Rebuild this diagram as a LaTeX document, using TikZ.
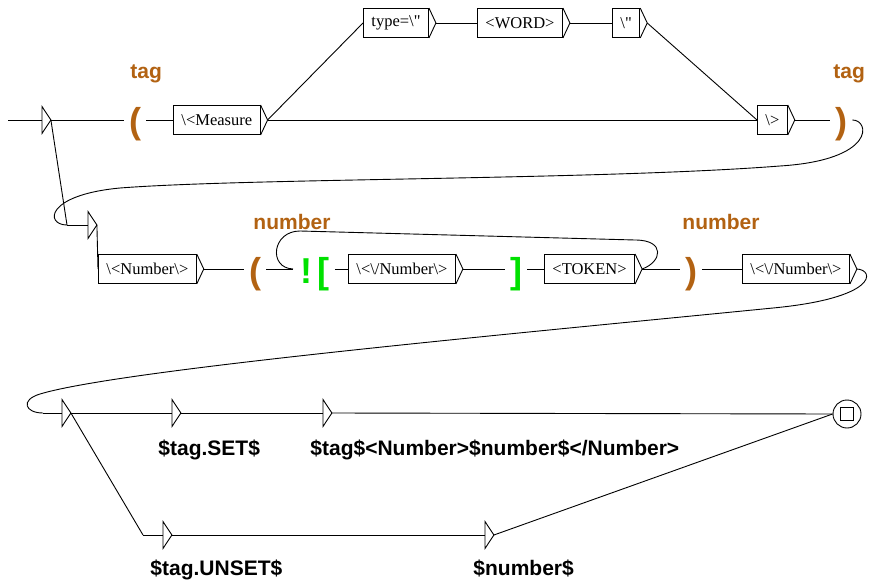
\documentclass[tikz,border=0pt]{standalone}
\usepackage{fontspec}
\newfontfamily\boxfont{Liberation Serif}
\newfontfamily\outfont{Liberation Sans}
\definecolor{varcol}{RGB}{178,98,18}
\definecolor{ctxcol}{RGB}{0,225,0}
\begin{document}
\begin{tikzpicture}[
  x=1pt, y=-1pt,
  line width=0.9pt,
  box/.style={draw, anchor=west, minimum height=29pt, inner xsep=8pt, inner ysep=0pt, font=\boxfont\fontsize{16.5}{18}\selectfont},
  eps/.style={anchor=west, minimum width=8pt, minimum height=26pt, inner sep=0pt},
  paren/.style={anchor=base, inner xsep=5pt, inner ysep=0pt, text=varcol, font=\outfont\bfseries\fontsize{36}{36}\selectfont},
  ctx/.style={anchor=base, inner xsep=5pt, inner ysep=0pt, text=ctxcol, font=\outfont\bfseries\fontsize{36}{36}\selectfont},
  var/.style={anchor=base west, inner sep=0pt, text=varcol, font=\outfont\bfseries\fontsize{21}{24}\selectfont},
  outlab/.style={anchor=base west, inner sep=0pt, font=\outfont\bfseries\fontsize{21}{24}\selectfont}
]
\useasboundingbox (0,0) rectangle (869,580);

% first line: the tag
\coordinate (in0) at (8,120);
\node[eps] (init) at (42,120) {};
\node[paren] (p1) at (135,134) {(};
\node[var] (lbtag1) at (130,79) {tag};
\node[box] (meas) at (173,120) {\textbackslash<Measure};
\node[box] (type) at (363,23) {type=\textbackslash"};
\node[box] (word) at (477,23) {<WORD>};
\node[box] (quot) at (612,23) {\textbackslash"};
\node[box] (close) at (757,120) {\textbackslash>};
\node[paren] (p2) at (841,134) {)};
\node[var] (lbtag2) at (833,79) {tag};

% second line: the number
\coordinate (eps1in) at (67,225);
\node[eps] (eps1) at (88,225) {};
\node[box] (num) at (98,269) {\textbackslash<Number\textbackslash>};
\node[paren] (p3) at (255,283) {(};
\node[var] (lbnum1) at (253,229) {number};
\coordinate (ctxin) at (293,269);
\node[ctx] (ctx) at (315,283) {!\kern5pt[};
\node[box] (vnum) at (348,269) {\textbackslash<\textbackslash/Number\textbackslash>};
\node[ctx] (rb) at (516,283) {]};
\node[box] (token) at (544,269) {<TOKEN>};
\node[paren] (p4) at (691,283) {)};
\node[var] (lbnum2) at (682,229) {number};
\node[box] (vnum2) at (742,269) {\textbackslash<\textbackslash/Number\textbackslash>};

% outputs
\coordinate (eps2in) at (43,413);
\node[eps] (eps2) at (62,413) {};
\node[eps] (tset) at (172,413) {};
\node[outlab] (lbset) at (158,455) {\$tag.SET\$};
\node[eps] (tres) at (323,413) {};
\node[outlab] (lbres) at (310,455) {\$tag\$<Number>\$number\$</Number>};
\coordinate (eps3in) at (143,535);
\node[eps] (tunset) at (163,535) {};
\node[outlab] (lbunset) at (150,575) {\$tag.UNSET\$};
\node[eps] (tnum) at (485,535) {};
\node[outlab] (lbnumout) at (473,575) {\$number\$};
\node[circle, draw, minimum size=28pt, inner sep=0pt] (fin) at (847,414) {};
\node[draw, minimum size=13pt, inner sep=0pt] (finsq) at (fin) {};

% triangles
\foreach \b in {meas,type,word,quot,close,num,vnum,token,vnum2} {
  \draw (\b.north east) -- ([xshift=7pt]\b.east) -- (\b.south east);
  \coordinate (\b-out) at ([xshift=7pt]\b.east);
}
\foreach \e in {init,eps1,eps2,tset,tres,tunset,tnum}
  \draw (\e.north west) -- (\e.east) -- (\e.south west) -- cycle;

% transitions
\draw (in0) -- (init.west);
\draw (init.east) -- (init.east -| p1.west);
\draw (init.east) -- (eps1in);
\draw (meas.west -| p1.east) -- (meas.west);
\draw (meas-out) -- (type.west);
\draw (meas-out) -- (close.west);
\draw (type-out) -- (word.west);
\draw (word-out) -- (quot.west);
\draw (quot-out) -- (close.west);
\draw (close-out) -- (close-out -| p2.west);
\draw (p2.east |- close-out) .. controls (870,120) and (876,160) .. (780,166)
  .. controls (600,180) and (250,178) .. (120,188)
  .. controls (45,195) and (45,225) .. (eps1in);
\draw (eps1in) -- (eps1.west);
\draw (eps1.east) -- (num.west);
\draw (num-out) -- (num-out -| p3.west);
\draw (ctxin -| p3.east) -- (ctxin);
\draw (vnum.west -| ctx.east) -- (vnum.west);
\draw (vnum-out) -- (vnum-out -| rb.west);
\draw (token.west -| rb.east) -- (token.west);
\draw (token-out) -- (token-out -| p4.west);
\draw (token-out) .. controls (662,262) and (666,240) .. (635,240)
  -- (300,231) .. controls (272,231) and (268,268) .. (ctxin);
\draw (vnum2.west -| p4.east) -- (vnum2.west);
\draw (vnum2-out) .. controls (875,270) and (878,298) .. (773,308)
  .. controls (500,335) and (120,370) .. (40,394)
  .. controls (20,400) and (25,413) .. (eps2in);
\draw (eps2in) -- (eps2.west);
\draw (eps2.east) -- (tset.west);
\draw (tset.east) -- (tres.west);
\draw (tres.east) -- (fin.west);
\draw (eps2.east) -- (eps3in);
\draw (eps3in) -- (tunset.west);
\draw (tunset.east) -- (tnum.west);
\draw (tnum.east) -- (fin.west);
\end{tikzpicture}
\end{document}
